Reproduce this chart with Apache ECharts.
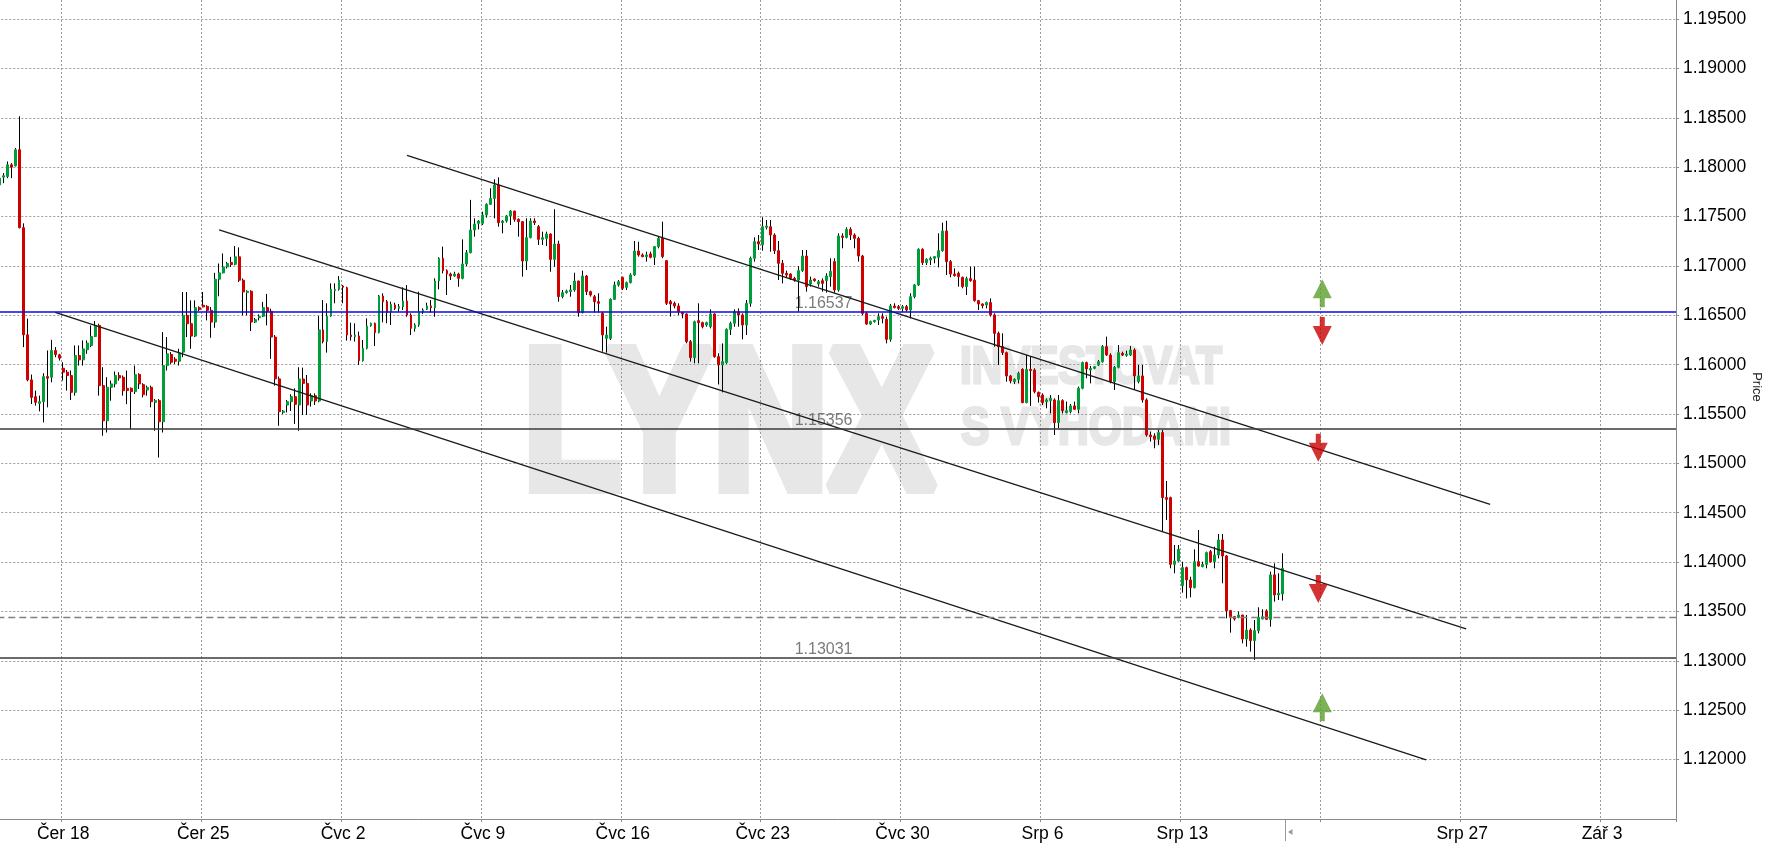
<!DOCTYPE html>
<html><head><meta charset="utf-8">
<script src="https://cdn.jsdelivr.net/npm/echarts@6/dist/echarts.min.js"></script>
<style>html,body{margin:0;padding:0;background:#fff}#chart{width:1767px;height:848px}</style>
</head><body><div id="chart"></div>
<script>
// ---- axis definition ----
const slotCount = 420;
const weekStartSlots = [16, 51, 86, 121, 156, 191, 226, 261, 296, 331, 366, 401];
const weekLabels = ['Čer 18','Čer 25','Čvc 2','Čvc 9','Čvc 16','Čvc 23','Čvc 30','Srp 6','Srp 13','','Srp 27','Zář 3'];
const priceTicks = [1.120,1.125,1.130,1.135,1.140,1.145,1.150,1.155,1.160,1.165,1.170,1.175,1.180,1.185,1.190,1.195];
const priceMin = 1.11397, priceMax = 1.19695;

// ---- candle data (EUR/USD, one value per slot) ----
const opens = [
1.17822,1.17900,1.17907,1.18025,1.18015,1.18178,1.17388,1.16303,1.15846,1.15676,
1.15608,1.15625,1.15880,1.15873,1.16144,1.16100,1.15964,1.15924,1.15890,1.15720,
1.16093,1.16049,1.16151,1.16195,1.16286,1.16398,1.15788,1.15432,1.15771,1.15805,
1.15890,1.15873,1.15760,1.15761,1.15727,1.15900,1.15798,1.15744,1.15771,1.15619,
1.15636,1.15422,1.15991,1.16103,1.16056,1.16035,1.16127,1.16500,1.16415,1.16290,
1.16578,1.16602,1.16591,1.16551,1.16432,1.16866,1.16930,1.16991,1.17035,1.17018,
1.17093,1.16856,1.16730,1.16744,1.16432,1.16476,1.16490,1.16578,1.16541,1.16280,
1.15856,1.15517,1.15591,1.15625,1.15676,1.15592,1.15855,1.15811,1.15632,1.15686,
1.15632,1.16352,1.16234,1.16493,1.16750,1.16763,1.16797,1.16780,1.16301,1.16284,
1.16291,1.16041,1.16166,1.16395,1.16419,1.16325,1.16696,1.16638,1.16537,1.16605,
1.16571,1.16588,1.16645,1.16503,1.16368,1.16402,1.16537,1.16561,1.16595,1.16578,
1.16848,1.17078,1.16953,1.16919,1.16898,1.16919,1.16875,1.17020,1.17135,1.17365,
1.17432,1.17432,1.17517,1.17625,1.17685,1.17821,1.17439,1.17456,1.17507,1.17557,
1.17473,1.17449,1.17050,1.17287,1.17456,1.17398,1.17270,1.17280,1.17324,1.17067,
1.17223,1.16689,1.16730,1.16740,1.16757,1.16848,1.16527,1.16898,1.16740,1.16689,
1.16638,1.16520,1.16267,1.16267,1.16662,1.16808,1.16885,1.16784,1.16831,1.16909,
1.17152,1.17112,1.17095,1.17122,1.17088,1.17196,1.17280,1.17054,1.16639,1.16622,
1.16595,1.16527,1.16514,1.16233,1.16071,1.16446,1.16426,1.16402,1.16385,1.16514,
1.16081,1.15997,1.16021,1.16358,1.16419,1.16537,1.16504,1.16402,1.16622,1.17078,
1.17246,1.17213,1.17392,1.17398,1.17314,1.17155,1.17027,1.16926,1.16919,1.16875,
1.16858,1.16953,1.17101,1.16818,1.16868,1.16818,1.16851,1.16851,1.16892,1.17044,
1.16757,1.17304,1.17290,1.17371,1.17314,1.17280,1.17101,1.16520,1.16412,1.16436,
1.16453,1.16487,1.16460,1.16257,1.16595,1.16588,1.16571,1.16588,1.16554,1.16689,
1.16808,1.17169,1.17034,1.17061,1.17078,1.17088,1.17155,1.17355,1.17044,1.16919,
1.16926,1.16885,1.16791,1.16872,1.16858,1.16649,1.16615,1.16605,1.16629,1.16504,
1.16318,1.16183,1.16122,1.15886,1.15828,1.15852,1.15953,1.15616,1.15953,1.15946,
1.15720,1.15693,1.15626,1.15636,1.15643,1.15413,1.15636,1.15514,1.15524,1.15582,
1.15548,1.15761,1.16021,1.15946,1.15963,1.15997,1.16031,1.16183,1.16098,1.15828,
1.15974,1.16115,1.16095,1.16098,1.16149,1.15828,1.15886,1.15643,1.15288,1.15278,
1.15244,1.15312,1.14653,1.14653,1.13977,1.14011,1.13761,1.13944,1.13819,1.13741,
1.14004,1.13954,1.13977,1.14106,1.14004,1.14072,1.14224,1.14062,1.13508,1.13447,
1.13440,1.13464,1.13221,1.13312,1.13204,1.13305,1.13424,1.13505,1.13420,1.13870,
1.13667,1.13677];
const highs = [
1.17910,1.17941,1.18059,1.18042,1.18195,1.18517,1.17432,1.16466,1.15900,1.15737,
1.15686,1.15913,1.16144,1.16252,1.16178,1.16110,1.16025,1.15947,1.15941,1.16195,
1.16195,1.16246,1.16246,1.16398,1.16442,1.16415,1.15974,1.15873,1.15839,1.15931,
1.15924,1.15890,1.15940,1.15770,1.15991,1.15913,1.15812,1.15788,1.15788,1.15652,
1.15652,1.16330,1.16280,1.16127,1.16076,1.16161,1.16737,1.16737,1.16652,1.16652,
1.16591,1.16737,1.16602,1.16585,1.16930,1.17025,1.17127,1.17042,1.17093,1.17202,
1.17188,1.16873,1.16754,1.16754,1.16473,1.16510,1.16636,1.16717,1.16568,1.16300,
1.15880,1.15541,1.15642,1.15700,1.15760,1.15974,1.15970,1.15896,1.15710,1.15710,
1.16493,1.16655,1.16622,1.16824,1.16824,1.16898,1.16807,1.16790,1.16426,1.16419,
1.16335,1.16250,1.16469,1.16426,1.16426,1.16706,1.16723,1.16655,1.16638,1.16628,
1.16615,1.16784,1.16807,1.16520,1.16419,1.16740,1.16571,1.16628,1.16655,1.16875,
1.17088,1.17196,1.16966,1.16932,1.16942,1.16932,1.17270,1.17162,1.17670,1.17483,
1.17466,1.17550,1.17635,1.17787,1.17878,1.17898,1.17466,1.17517,1.17567,1.17560,
1.17483,1.17456,1.17483,1.17483,1.17483,1.17415,1.17348,1.17348,1.17331,1.17575,
1.17256,1.16757,1.16760,1.16807,1.16932,1.16851,1.16953,1.16909,1.16750,1.16706,
1.16723,1.16537,1.16385,1.16672,1.16841,1.16858,1.16892,1.16841,1.16926,1.17253,
1.17246,1.17128,1.17145,1.17145,1.17203,1.17297,1.17449,1.17061,1.16656,1.16639,
1.16622,1.16537,1.16520,1.16250,1.16446,1.16622,1.16436,1.16436,1.16561,1.16520,
1.16115,1.16216,1.16368,1.16436,1.16561,1.16571,1.16520,1.16656,1.17095,1.17290,
1.17314,1.17493,1.17466,1.17466,1.17331,1.17253,1.17061,1.16953,1.16926,1.16890,
1.16997,1.17162,1.17162,1.16892,1.16875,1.16858,1.16875,1.16926,1.17078,1.17078,
1.17331,1.17331,1.17392,1.17392,1.17331,1.17297,1.17112,1.16537,1.16446,1.16453,
1.16520,1.16520,1.16487,1.16615,1.16622,1.16605,1.16605,1.16605,1.16723,1.16818,
1.17179,1.17179,1.17078,1.17095,1.17101,1.17331,1.17439,1.17459,1.17061,1.16976,
1.16943,1.16892,1.16892,1.16993,1.16993,1.16656,1.16622,1.16639,1.16672,1.16520,
1.16335,1.16318,1.16132,1.15896,1.15862,1.15929,1.15963,1.16098,1.16088,1.15963,
1.15727,1.15710,1.15659,1.15693,1.15659,1.15693,1.15649,1.15626,1.15602,1.15626,
1.15778,1.16031,1.16031,1.15987,1.15987,1.16048,1.16199,1.16284,1.16115,1.15987,
1.16199,1.16132,1.16142,1.16189,1.16166,1.15997,1.15997,1.15659,1.15322,1.15305,
1.15339,1.15338,1.14822,1.14663,1.14173,1.14173,1.14004,1.13954,1.13852,1.14129,
1.14325,1.14004,1.14106,1.14123,1.14156,1.14285,1.14285,1.14072,1.13515,1.13454,
1.13498,1.13464,1.13464,1.13329,1.13413,1.13542,1.13522,1.13522,1.13903,1.13987,
1.13886,1.14089];
const lows = [
1.17810,1.17839,1.17890,1.17890,1.18008,1.17381,1.16178,1.15832,1.15601,1.15585,
1.15527,1.15415,1.15568,1.15822,1.16076,1.16042,1.15839,1.15737,1.15642,1.15686,
1.15991,1.15991,1.16110,1.16178,1.16280,1.15686,1.15280,1.15313,1.15635,1.15771,
1.15839,1.15686,1.15600,1.15347,1.15703,1.15754,1.15669,1.15686,1.15568,1.15330,
1.15059,1.15313,1.15941,1.16008,1.16008,1.15991,1.16076,1.16280,1.16161,1.16280,
1.16544,1.16580,1.16449,1.16273,1.16374,1.16693,1.16925,1.16974,1.16991,1.17008,
1.16839,1.16500,1.16500,1.16341,1.16422,1.16449,1.16483,1.16398,1.16059,1.15788,
1.15381,1.15500,1.15517,1.15531,1.15400,1.15330,1.15490,1.15490,1.15575,1.15592,
1.15619,1.16216,1.16122,1.16486,1.16622,1.16750,1.16622,1.16244,1.16244,1.16234,
1.15997,1.16031,1.16156,1.16385,1.16189,1.16318,1.16429,1.16419,1.16402,1.16554,
1.16537,1.16554,1.16486,1.16301,1.16335,1.16385,1.16514,1.16554,1.16527,1.16486,
1.16763,1.16925,1.16706,1.16858,1.16890,1.16790,1.16865,1.17000,1.17128,1.17297,
1.17371,1.17415,1.17490,1.17618,1.17483,1.17398,1.17331,1.17439,1.17415,1.17449,
1.17297,1.16892,1.16959,1.17280,1.17415,1.17213,1.17213,1.17202,1.16942,1.16993,
1.16638,1.16672,1.16720,1.16689,1.16740,1.16486,1.16520,1.16706,1.16690,1.16527,
1.16527,1.16132,1.16122,1.16250,1.16656,1.16791,1.16757,1.16757,1.16824,1.16899,
1.17095,1.17088,1.17044,1.17078,1.17010,1.17179,1.17078,1.16605,1.16487,1.16571,
1.16504,1.16470,1.16216,1.16031,1.16014,1.16014,1.16368,1.16385,1.16368,1.16071,
1.15800,1.15720,1.16010,1.16301,1.16385,1.16385,1.16257,1.16301,1.16588,1.17044,
1.17162,1.17155,1.17371,1.17145,1.17122,1.16858,1.16824,1.16885,1.16858,1.16841,
1.16537,1.16940,1.16740,1.16791,1.16841,1.16791,1.16740,1.16730,1.16791,1.16730,
1.16740,1.17179,1.17280,1.17263,1.17179,1.17044,1.16504,1.16402,1.16402,1.16426,
1.16402,1.16419,1.16216,1.16233,1.16571,1.16554,1.16537,1.16537,1.16470,1.16672,
1.16797,1.17010,1.17010,1.17010,1.17027,1.16986,1.17145,1.16909,1.16885,1.16892,
1.16791,1.16774,1.16706,1.16841,1.16639,1.16554,1.16571,1.16571,1.16487,1.16183,
1.15997,1.16098,1.15828,1.15811,1.15805,1.15811,1.15609,1.15609,1.15582,1.15710,
1.15616,1.15592,1.15558,1.15507,1.15288,1.15355,1.15507,1.15507,1.15507,1.15541,
1.15507,1.15751,1.15862,1.15811,1.15953,1.15987,1.16021,1.16088,1.15811,1.15744,
1.15963,1.16088,1.16081,1.16088,1.15744,1.15811,1.15616,1.15271,1.15221,1.15153,
1.15187,1.14309,1.14427,1.13937,1.13886,1.14004,1.13690,1.13633,1.13643,1.13734,
1.13954,1.13947,1.13937,1.13994,1.13937,1.14038,1.13785,1.13430,1.13285,1.13407,
1.13430,1.13177,1.13143,1.13093,1.13008,1.13278,1.13420,1.13413,1.13346,1.13599,
1.13616,1.13610];
const closes = [
1.17890,1.17914,1.18025,1.18002,1.18178,1.17388,1.16303,1.15846,1.15669,1.15619,
1.15625,1.15880,1.15863,1.16144,1.16103,1.16066,1.15924,1.15890,1.15720,1.16093,
1.16049,1.16160,1.16219,1.16286,1.16398,1.15788,1.15432,1.15771,1.15805,1.15890,
1.15866,1.15737,1.15740,1.15727,1.15900,1.15805,1.15696,1.15771,1.15625,1.15636,
1.15422,1.15991,1.16110,1.16025,1.16035,1.16120,1.16500,1.16415,1.16290,1.16578,
1.16558,1.16585,1.16551,1.16432,1.16866,1.16930,1.16991,1.17025,1.17015,1.17093,
1.16856,1.16737,1.16744,1.16432,1.16456,1.16490,1.16578,1.16541,1.16280,1.15856,
1.15524,1.15530,1.15625,1.15676,1.15598,1.15855,1.15811,1.15592,1.15686,1.15632,
1.16352,1.16234,1.16493,1.16763,1.16763,1.16858,1.16784,1.16301,1.16284,1.16301,
1.16041,1.16166,1.16392,1.16419,1.16325,1.16696,1.16638,1.16527,1.16611,1.16571,
1.16588,1.16645,1.16503,1.16368,1.16402,1.16537,1.16554,1.16595,1.16578,1.16848,
1.17078,1.16953,1.16919,1.16898,1.16919,1.16875,1.17020,1.17135,1.17365,1.17425,
1.17456,1.17517,1.17625,1.17685,1.17821,1.17439,1.17456,1.17507,1.17557,1.17473,
1.17449,1.17050,1.17287,1.17456,1.17439,1.17270,1.17287,1.17324,1.17067,1.17223,
1.16689,1.16730,1.16747,1.16757,1.16848,1.16527,1.16898,1.16740,1.16706,1.16638,
1.16622,1.16301,1.16301,1.16662,1.16808,1.16841,1.16774,1.16831,1.16909,1.17152,
1.17112,1.17095,1.17112,1.17088,1.17196,1.17280,1.17095,1.16622,1.16615,1.16595,
1.16537,1.16514,1.16233,1.16071,1.16436,1.16426,1.16385,1.16426,1.16514,1.16081,
1.15997,1.16031,1.16358,1.16419,1.16537,1.16504,1.16402,1.16622,1.17078,1.17246,
1.17223,1.17398,1.17405,1.17314,1.17155,1.17027,1.16926,1.16909,1.16875,1.16858,
1.16953,1.17101,1.16791,1.16858,1.16851,1.16841,1.16824,1.16899,1.16946,1.16757,
1.17304,1.17290,1.17371,1.17314,1.17280,1.17101,1.16520,1.16412,1.16436,1.16450,
1.16487,1.16470,1.16257,1.16595,1.16578,1.16571,1.16588,1.16554,1.16689,1.16808,
1.17169,1.17034,1.17068,1.17078,1.17095,1.17155,1.17355,1.17044,1.16919,1.16902,
1.16892,1.16791,1.16872,1.16851,1.16649,1.16615,1.16598,1.16629,1.16504,1.16318,
1.16183,1.16122,1.15886,1.15835,1.15852,1.15913,1.15616,1.15953,1.15940,1.15727,
1.15676,1.15616,1.15643,1.15659,1.15413,1.15636,1.15534,1.15534,1.15582,1.15548,
1.15761,1.16021,1.15957,1.15963,1.15980,1.16031,1.16183,1.16098,1.15828,1.15974,
1.16122,1.16098,1.16108,1.16149,1.15886,1.15886,1.15643,1.15288,1.15271,1.15244,
1.15312,1.14653,1.14636,1.13977,1.14011,1.14129,1.13944,1.13819,1.13741,1.14004,
1.13960,1.13977,1.14096,1.14004,1.14072,1.14224,1.14062,1.13508,1.13447,1.13424,
1.13464,1.13221,1.13312,1.13204,1.13305,1.13440,1.13447,1.13420,1.13870,1.13667,
1.13684,1.13937];

// ---- annotations ----
const levelPrices = [1.16537, 1.15356, 1.13031];
const dashedLevels = [1.13441];
const levelLabelSlot = 199;
// [startSlot, startPrice, endSlot, endPrice]
const trendLines = [
  [102, 1.18121, 373, 1.14584],
  [55, 1.17366, 367, 1.13324],
  [14, 1.16529, 357, 1.11997]
];
const arrowSlots  = [331, 331, 330, 330, 331];
const arrowPrices = [1.16723, 1.16341, 1.15158, 1.13727, 1.12529];
const arrowDirs   = ['up', 'down', 'down', 'down', 'up'];

// ---- build ----
const categories = Array.from({length: slotCount}, (_, i) => String(i));
const isWeek = (i) => weekStartSlots.indexOf(i) >= 0;
const weekLabelOf = (i) => { const k = weekStartSlots.indexOf(i); return k >= 0 ? weekLabels[k] : ''; };

const wickData = opens.map((o, i) => [o, closes[i], lows[i], highs[i]]);
const bodyData = opens.map((o, i) => [o, closes[i], Math.min(o, closes[i]), Math.max(o, closes[i])]);

const UP_PATH = 'path://M9.5,0L19,19L12,19L12,28L7,28L7,19L0,19Z';
const DOWN_PATH = 'path://M7,0L12,0L12,9L19,9L9.5,28L0,9L7,9Z';
const FONT = '"Liberation Sans", Arial, sans-serif';
const gridDash = {color: '#9a9a9a', width: 1, type: [2, 2]};
const WM = '#e6e7e6';

const levelStyles = [
  {color: '#0a0ae6', width: 1.6, type: 'solid'},
  {color: '#3a3a3a', width: 1.6, type: 'solid'},
  {color: '#3a3a3a', width: 1.6, type: 'solid'}
];

const series = [
  {
    name: 'wick', type: 'candlestick', data: wickData, barWidth: 1, z: 2,
    itemStyle: {color: '#000', color0: '#000', borderColor: '#000', borderColor0: '#000', borderColorDoji: '#000', borderWidth: 1},
    markLine: {
      silent: true, symbol: ['none', 'none'], animation: false, precision: 5,
      label: {show: false},
      data: levelPrices.map((p, i) => ({yAxis: p, lineStyle: levelStyles[i]}))
        .concat(dashedLevels.map(p => ({yAxis: p, lineStyle: {color: '#808080', width: 1.3, type: [7, 4]}})))
    }
  },
  {
    name: 'body', type: 'candlestick', data: bodyData, barWidth: 2.4, z: 3,
    itemStyle: {color: '#009e3a', color0: '#d00000', borderColor: '#009e3a', borderColor0: '#d00000', borderColorDoji: '#009e3a', borderWidth: 1}
  },
  {
    name: 'levelLabels', type: 'scatter', symbolSize: 0, z: 1, silent: true,
    data: levelPrices.map(p => [levelLabelSlot, p]),
    label: {
      show: true, position: [0, 0], align: 'left', verticalAlign: 'bottom',
      formatter: (d) => d.value[1].toFixed(5), color: '#5a5a5a', fontSize: 16, fontFamily: FONT
    }
  }
].concat(trendLines.map((t, k) => ({
  name: 'trend' + k, type: 'line', z: 4, silent: true, symbol: 'none',
  data: [[t[0], t[1]], [t[2], t[3]]],
  lineStyle: {color: '#1a1a1a', width: 1.3}
}))).concat([{
  name: 'arrows', type: 'scatter', z: 5, silent: true, symbolSize: [19, 28],
  data: arrowSlots.map((s, i) => ({
    value: [s, arrowPrices[i]],
    symbol: arrowDirs[i] === 'up' ? UP_PATH : DOWN_PATH,
    itemStyle: {color: arrowDirs[i] === 'up' ? '#5c9e2c' : '#c80000'}
  }))
}]);

const chart = echarts.init(document.getElementById('chart'), null, {renderer: 'canvas'});
chart.setOption({
  backgroundColor: '#ffffff',
  animation: false,
  grid: {left: -2.7, right: 91, top: 0, bottom: 29, containLabel: false, outerBoundsMode: 'none'},
  xAxis: {
    type: 'category', data: categories, boundaryGap: true,
    axisLine: {show: true, lineStyle: {color: '#8a8a8a', width: 1}},
    axisTick: {show: true, interval: isWeek, length: 3, lineStyle: {color: '#8a8a8a'}},
    axisLabel: {show: true, interval: isWeek, formatter: (v, i) => weekLabelOf(Number(v)), color: '#000', fontSize: 17.5, fontFamily: FONT, margin: 6},
    splitLine: {show: true, interval: isWeek, lineStyle: gridDash}
  },
  yAxis: {
    type: 'value', position: 'right', min: priceMin, max: priceMax,
    axisLine: {show: true, lineStyle: {color: '#8a8a8a', width: 1}},
    axisTick: {show: true, length: 3, customValues: priceTicks, lineStyle: {color: '#8a8a8a'}},
    axisLabel: {show: true, customValues: priceTicks, formatter: (v) => Number(v).toFixed(5), color: '#000', fontSize: 17.5, fontFamily: FONT, margin: 7},
    splitLine: {show: true, lineStyle: gridDash}
  },
  graphic: [
    {type: 'text', z: -1, silent: true, x: 523, y: 433, scaleX: 0.80,
      style: {text: 'LYNX', font: 'bold 200px ' + FONT, fill: WM, stroke: WM, lineWidth: 12, lineJoin: 'miter', textAlign: 'left', textVerticalAlign: 'middle'}},
    {type: 'text', z: -1, silent: true, x: 960, y: 369, scaleX: 0.825,
      style: {text: 'INVESTOVAT', font: 'bold 51px ' + FONT, fill: WM, stroke: WM, lineWidth: 3, textAlign: 'left', textVerticalAlign: 'middle'}},
    {type: 'text', z: -1, silent: true, x: 961, y: 430, scaleX: 0.835,
      style: {text: 'S VÝHODAMI', font: 'bold 51px ' + FONT, fill: WM, stroke: WM, lineWidth: 3, textAlign: 'left', textVerticalAlign: 'middle'}},
    {type: 'text', silent: true, x: 1757, y: 387, rotation: -Math.PI / 2,
      style: {text: 'Price', font: '13px ' + FONT, fill: '#222', textAlign: 'center', textVerticalAlign: 'middle'}},
    {type: 'line', silent: true, shape: {x1: 1285.5, y1: 820, x2: 1285.5, y2: 841}, style: {stroke: '#9a9a9a', lineWidth: 1}},
    {type: 'polygon', silent: true, shape: {points: [[1288, 832], [1292.5, 829], [1292.5, 835]]}, style: {fill: '#9a9a9a'}}
  ],
  series: series
});
</script></body></html>
